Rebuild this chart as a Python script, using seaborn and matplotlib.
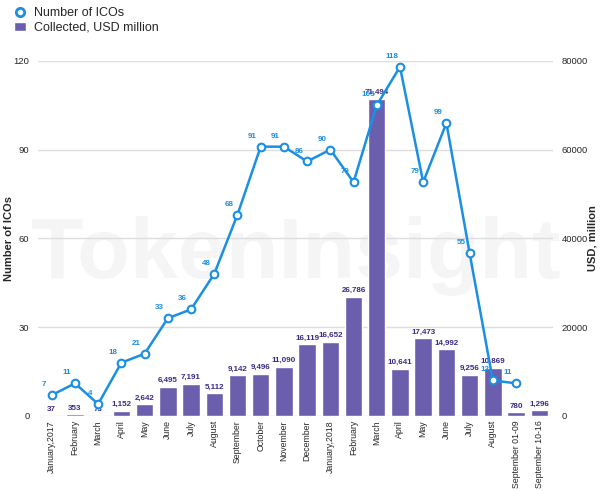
import numpy as np
import pandas as pd
import seaborn as sns
import matplotlib.pyplot as plt
from matplotlib.lines import Line2D
from matplotlib.patches import Patch

sns.set_style("white")
plt.rcParams['font.family'] = ['Liberation Sans', 'DejaVu Sans']

# data
months = ["January,2017", "February", "March", "April", "May", "June", "July",
          "August", "September", "October", "November", "December",
          "January,2018", "February", "March", "April", "May", "June", "July",
          "August", "September 01-09", "September 10-16"]
usd_million = [37, 353, 73, 1152, 2642, 6495, 7191, 5112, 9142, 9496, 11090,
               16119, 16652, 26786, 71494, 10641, 17473, 14992, 9256, 10869,
               780, 1296]
ico_count = [7, 11, 4, 18, 21, 33, 36, 48, 68, 91, 91, 86, 90, 79, 105, 118,
             79, 99, 55, 12, 11]

blue = "#1a8fe3"
purple = "#6b5fad"
label_purple = "#3b2a85"

pos = np.arange(len(months))
df = pd.DataFrame({"idx": pos, "usd": usd_million})

fig = plt.figure(figsize=(6, 4.91), dpi=100)
ax1 = fig.add_axes([0.063, 0.153, 0.859, 0.723])

# watermark
ax1.text(0.5, 0.45, "TokenInsight", transform=ax1.transAxes, ha="center",
         va="center", fontsize=62, fontweight="bold", color="#f5f5f5", zorder=0)

sns.barplot(data=df, x="idx", y="usd", color=purple, width=0.75,
            saturation=1, ax=ax1, zorder=2)
ax1.set_ylim(0, 80000)
ax1.set_yticks([0, 20000, 40000, 60000, 80000])
ax1.set_xlabel("")
ax1.grid(axis="y", color="#dddddd", linewidth=1)
ax1.set_axisbelow(True)
ax1.set_xticks(pos)
ax1.set_xticklabels(months, rotation=90)
ax1.set_xlim(-0.6, len(months) - 0.4)
for i, v in enumerate(usd_million):
    ax1.annotate(f"{v:,}", (i, v), xytext=(0, 2), textcoords="offset points",
                 ha="center", va="bottom", fontsize=5.8, fontweight="bold",
                 color=label_purple)

ax2 = ax1.twinx()
sns.lineplot(x=pos[:len(ico_count)], y=ico_count, ax=ax2, color=blue,
             linewidth=1.8, marker="o", markersize=5.5, markerfacecolor="white",
             markeredgecolor=blue, markeredgewidth=1.5)
ax2.set_ylim(0, 120)
ax2.set_yticks([0, 30, 60, 90, 120])
for i, v in enumerate(ico_count):
    ax2.annotate(str(v), (i, v), xytext=(-6, 5), textcoords="offset points",
                 ha="center", va="bottom", fontsize=5.8, fontweight="bold",
                 color=blue)

# swap sides: bars axis on the right, ICO axis on the left
ax1.yaxis.tick_right()
ax1.yaxis.set_label_position("right")
ax1.set_ylabel("USD, million", fontsize=8, fontweight="bold")
ax1.yaxis.set_label_coords(1.066, 0.5)
ax2.yaxis.tick_left()
ax2.yaxis.set_label_position("left")
ax2.set_ylabel("Number of ICOs", fontsize=8, fontweight="bold")
ax2.yaxis.set_label_coords(-0.046, 0.5)
ax1.tick_params(axis="both", length=0, labelsize=6.8)
ax1.tick_params(axis="y", pad=6)
ax2.tick_params(axis="y", length=0, labelsize=6.8, pad=6)
ax1.tick_params(axis="x", labelsize=6.3, pad=3)

for a in (ax1, ax2):
    for s in a.spines.values():
        s.set_visible(False)

handles = [Line2D([], [], color=blue, marker="o", linestyle="none",
                  markerfacecolor="white", markeredgewidth=2, markersize=6),
           Patch(facecolor=purple)]
fig.legend(handles, ["Number of ICOs", "Collected, USD million"],
           loc="upper left", bbox_to_anchor=(0.01, 1.0), frameon=False,
           fontsize=9, handlelength=1.0, handletextpad=0.6, labelspacing=0.2,
           borderaxespad=0.2)

fig.savefig("out.png", dpi=100)
